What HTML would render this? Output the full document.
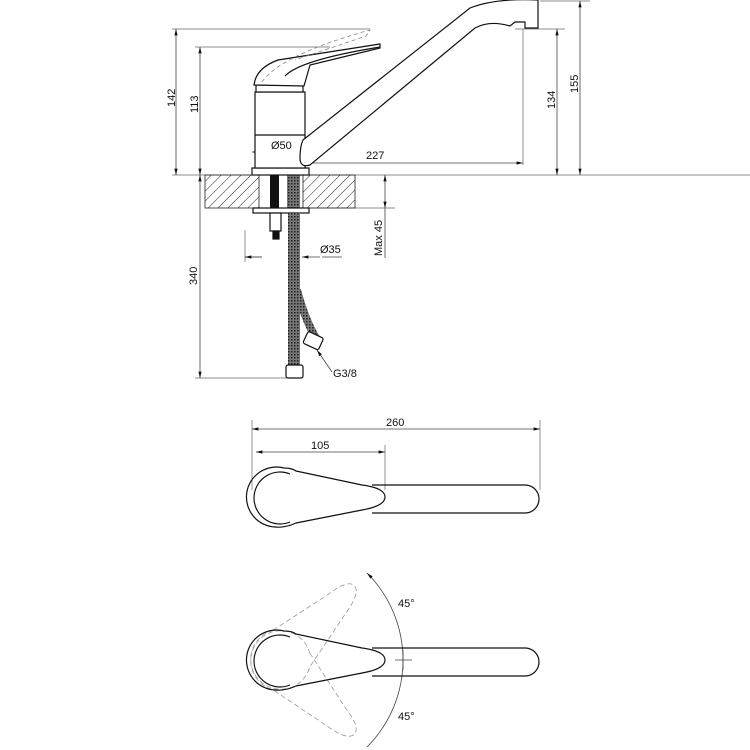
<!DOCTYPE html>
<html><head><meta charset="utf-8"><style>html,body{margin:0;padding:0;background:#fff}svg{display:block}text{font-family:"Liberation Sans",sans-serif;font-size:11px;fill:#111}</style></head>
<body>
<svg width="750" height="750" viewBox="0 0 750 750" xmlns="http://www.w3.org/2000/svg">
<defs>
<pattern id="h" width="7" height="7" patternUnits="userSpaceOnUse" patternTransform="rotate(45)"><line x1="0" y1="0" x2="0" y2="7" stroke="#222" stroke-width="1"/></pattern>
<pattern id="m" width="3" height="3" patternUnits="userSpaceOnUse"><rect width="3" height="3" fill="#777"/><rect width="1.5" height="1.5" fill="#222"/></pattern>
<marker id="a" markerWidth="8" markerHeight="6" refX="8" refY="3" orient="auto-start-reverse"><path d="M0,1 L8,3 L0,5z" fill="#111"/></marker>
</defs>
<g fill="none" stroke="#666" stroke-width="0.7">
<line x1="172" y1="175" x2="750" y2="175"/>
<line x1="172" y1="29" x2="370" y2="29"/>
<line x1="195" y1="47" x2="330" y2="47"/>
<line x1="515" y1="29" x2="565" y2="29"/>
<line x1="540" y1="1" x2="590" y2="1"/>
<line x1="523" y1="29" x2="523" y2="165"/>
<line x1="310" y1="208" x2="395" y2="208"/>
<line x1="195" y1="378" x2="290" y2="378"/>
<line x1="245" y1="230" x2="245" y2="262"/>
<line x1="252" y1="420" x2="252" y2="490"/>
<line x1="540" y1="420" x2="540" y2="490"/>
<line x1="385" y1="445" x2="385" y2="490"/>
</g>
<g fill="none" stroke="#444" stroke-width="0.8">
<line x1="176" y1="29" x2="176" y2="175" marker-start="url(#a)" marker-end="url(#a)"/>
<line x1="200" y1="47" x2="200" y2="175" marker-start="url(#a)" marker-end="url(#a)"/>
<line x1="557" y1="29" x2="557" y2="175" marker-start="url(#a)" marker-end="url(#a)"/>
<line x1="580" y1="1" x2="580" y2="175" marker-start="url(#a)" marker-end="url(#a)"/>
<line x1="300" y1="163" x2="523" y2="163" marker-end="url(#a)"/>
<line x1="283" y1="163" x2="300" y2="163" marker-end="url(#a)"/>
<line x1="252" y1="152" x2="310" y2="152" marker-start="url(#a)" marker-end="url(#a)"/>
<line x1="385" y1="175" x2="385" y2="208" marker-start="url(#a)" marker-end="url(#a)"/>
<line x1="385" y1="208" x2="385" y2="258"/>
<line x1="200" y1="175" x2="200" y2="378" marker-start="url(#a)" marker-end="url(#a)"/>
<line x1="245" y1="257" x2="262" y2="257"/><line x1="262" y1="257" x2="245" y2="257" marker-end="url(#a)"/>
<line x1="322" y1="257" x2="342" y2="257"/><line x1="320" y1="257" x2="302" y2="257" marker-end="url(#a)"/>
<line x1="252" y1="429" x2="540" y2="429" marker-start="url(#a)" marker-end="url(#a)"/>
<line x1="256" y1="452" x2="385" y2="452" marker-start="url(#a)" marker-end="url(#a)"/>
<line x1="317" y1="350" x2="332" y2="372" marker-start="url(#a)"/>
<path d="M367,573 A123,123 0 0 1 403,660" marker-start="url(#a)"/>
<path d="M403,660 A123,123 0 0 1 367,747"/>
<line x1="395" y1="660" x2="412" y2="660"/>
<line x1="403" y1="650" x2="403" y2="670"/>
</g>
<rect x="205" y="175" width="150" height="33" fill="url(#h)" stroke="#222" stroke-width="0.8"/>
<rect x="259" y="175" width="44" height="33" fill="#fff" stroke="#222" stroke-width="0.8"/>
<rect x="270" y="175" width="9" height="33" fill="#111"/>
<rect x="287" y="175" width="13" height="33" fill="url(#m)"/>
<g fill="#fff" stroke="#111" stroke-width="1.2">
<rect x="253" y="208" width="56" height="5"/>
<rect x="270" y="213" width="11" height="18"/>
<rect x="273" y="231" width="6" height="8" fill="#111"/>
<path d="M297,290 Q305,320 316,338" fill="none" stroke="url(#m)" stroke-width="8"/>
<rect x="288" y="213" width="12" height="155" fill="url(#m)" stroke="none"/>
<rect x="286" y="365" width="17" height="13" rx="2"/>
<rect x="305" y="334" width="17" height="13" rx="2" transform="rotate(25 313 340)"/>
<rect x="252" y="168" width="57" height="7"/>
<rect x="255" y="92" width="50" height="76"/>
<line x1="255" y1="135" x2="305" y2="135"/>
<rect x="256" y="85" width="47" height="7"/>
<path d="M254,85 Q256,68 278,60 L380,44 L380,48 L310,65 L304,86 Z"/>
<path d="M285,76 Q300,60 380,47" fill="none"/>
<path d="M303,140 L470,8 Q495,-2 538,0 L538,28 L525,28 L525,22 L515,22 L510,26 Q490,20 475,28 L310,165 Q300,168 300,158 Q300,146 303,140 Z"/>
</g>
<g fill="none" stroke="#888" stroke-width="0.8" stroke-dasharray="4,3">
<path d="M262,82 Q280,55 370,30 L366,36 L295,60"/>
</g>
<g fill="none" stroke="#999" stroke-width="0.8" stroke-dasharray="5,3">
<path transform="rotate(-45 280 660)" d="M296,634 L362,648 Q385,651 385,660 Q385,669 362,673 L296,686 A30,30 0 1 1 296,634 Z"/>
<path transform="rotate(45 280 660)" d="M296,634 L362,648 Q385,651 385,660 Q385,669 362,673 L296,686 A30,30 0 1 1 296,634 Z"/>
</g>
<g id="lv" fill="none" stroke="#111" stroke-width="1.2">
<path d="M372,485 L525,485 A14,14 0 0 1 525,513 L372,513"/>
<path d="M296,471 L362,485 Q385,488 385,497 Q385,506 362,510 L296,523 Q285,528 275,527 A30,30 0 1 1 284,468 Q292,468 296,471 Z"/>
<path d="M290,474 A26,26 0 1 0 290,522" />
</g>
<use href="#lv" transform="translate(0,163)"/>
<text transform="translate(175,107) rotate(-90)">142</text>
<text transform="translate(198,113) rotate(-90)">113</text>
<text transform="translate(555,109) rotate(-90)">134</text>
<text transform="translate(578,93) rotate(-90)">155</text>
<text x="366" y="159">227</text>
<text x="271" y="149">Ø50</text>
<text transform="translate(382,256) rotate(-90)">Max 45</text>
<text x="320" y="253">Ø35</text>
<text transform="translate(197,285) rotate(-90)">340</text>
<text x="333" y="377">G3/8</text>
<text x="386" y="426">260</text>
<text x="311" y="449">105</text>
<text x="398" y="607">45°</text>
<text x="398" y="720">45°</text>
</svg>
</body></html>
